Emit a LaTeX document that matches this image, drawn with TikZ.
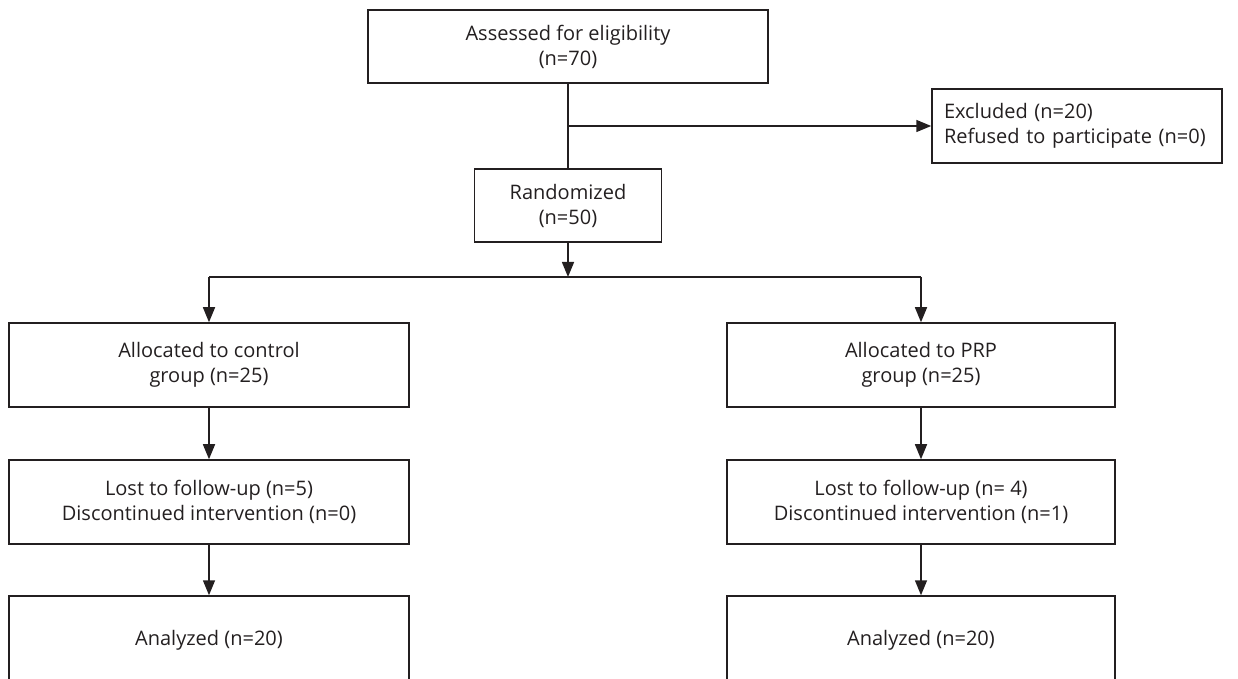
\documentclass[tikz,border=0pt]{standalone}
\usepackage{fontspec}
\setmainfont{Open Sans}
\usetikzlibrary{arrows.meta}
\definecolor{ink}{HTML}{231F20}
\begin{document}
\begin{tikzpicture}[x=0.5pt,y=-0.5pt,
        font=\fontsize{10}{12.5}\selectfont, text=ink,
        box/.style={draw=ink, line width=0.75pt, align=center, inner sep=0pt},
        flow/.style={draw=ink, line width=0.75pt},
        arr/.style={flow, -{Triangle[length=7.5pt,width=6pt]}}]
        \clip (0,0) rectangle (1238,679);
        % top of the chart
        \node[box, minimum width=200pt, minimum height=36.5pt] (assess) at (568,46.5)
            {Assessed for eligibility\\(n=70)};
        \node[box, minimum width=93.5pt, minimum height=36.5pt] (rand) at (568,205.5)
            {Randomized\\(n=50)};
        \node[box, align=left, text width=133pt, inner xsep=6pt, minimum height=37pt] (excl) at (1077,126)
            {Excluded (n=20)\\Refused to participate (n=0)};
        % the two arms
        \node[box, minimum width=200pt, minimum height=42pt] (allocC) at (209,365)
            {Allocated to control\\group (n=25)};
        \node[box, minimum width=194pt, minimum height=42pt] (allocP) at (921,365)
            {Allocated to PRP\\group (n=25)};
        \node[box, minimum width=200pt, minimum height=42pt] (lostC) at (209,502)
            {Lost to follow-up (n=5)\\Discontinued intervention (n=0)};
        \node[box, minimum width=194pt, minimum height=42pt] (lostP) at (921,502)
            {Lost to follow-up (n= 4)\\Discontinued intervention (n=1)};
        \node[box, minimum width=200pt, minimum height=44pt] (anaC) at (209,640)
            {Analyzed (n=20)};
        \node[box, minimum width=194pt, minimum height=44pt] (anaP) at (921,640)
            {Analyzed (n=20)};
        % connectors
        \coordinate (split) at (assess.south |- excl.west);
        \coordinate (hub) at (568,277);
        \coordinate (hubC) at (allocC.north |- hub);
        \coordinate (hubP) at (allocP.north |- hub);
        \draw[flow] (assess.south) -- (rand.north);
        \draw[arr] (split) -- (excl.west);
        \draw[arr] (rand.south) -- (hub);
        \draw[flow] (hubC) -- (hubP);
        \draw[arr] (hubC) -- (allocC.north);
        \draw[arr] (hubP) -- (allocP.north);
        \draw[arr] (allocC) -- (lostC);
        \draw[arr] (allocP) -- (lostP);
        \draw[arr] (lostC) -- (anaC);
        \draw[arr] (lostP) -- (anaP);
\end{tikzpicture}
\end{document}
